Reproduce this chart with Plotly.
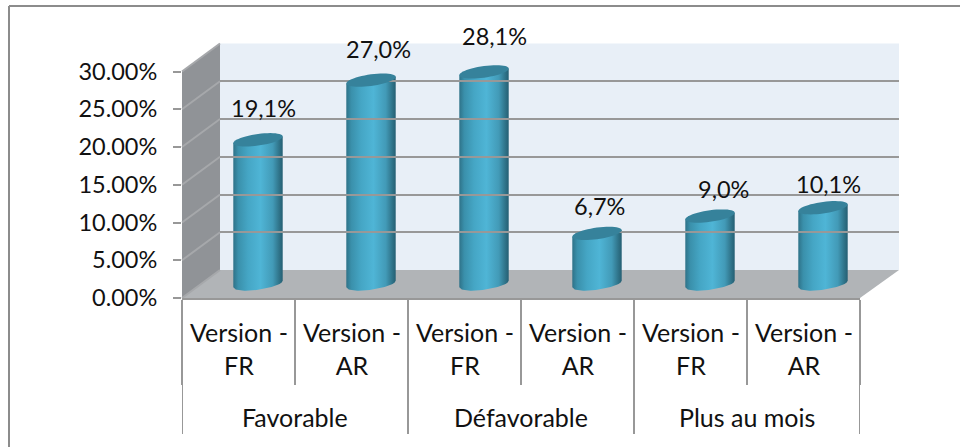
import math
import plotly.graph_objects as go

groups = ["Favorable", "Défavorable", "Plus au mois"]
versions = ["Version -<br>FR", "Version -<br>AR", "Version -<br>FR", "Version -<br>AR", "Version -<br>FR", "Version -<br>AR"]
values = [19.1, 27.0, 28.1, 6.7, 9.0, 10.1]
y_ticks = [0, 5, 10, 15, 20, 25, 30]

W, H = 960, 447
FONT = "Lato"
FS = 25
FS_LABEL = 23.5
FS_TICK = 23.5
X0, X1, Y0, Y30 = 182, 860, 298, 71.5
BAR_SHIFT = (19.5, -14)
WALL_SHIFT = (38, -28)
PX_X = 6 / (X1 - X0)
PX_Y = 30 / (Y0 - Y30)
RX, RY, TILT = 24.7, 5.8, 3.3
BELOW = 2.0  # extra value room below zero so the curved cylinder bases are not clipped
GRADIENT = [[0, "#2e7288"], [0.1, "#3a90ab"], [0.3, "#45a6c5"], [0.55, "#4fb5d6"],
            [0.8, "#429ab7"], [0.93, "#2f7389"], [1, "#255f73"]]
LABEL_OFFSETS = [(5, 32), (7, 31), (10, 36), (2, 27), (13, 27), (5, 24)]


def gx(p):
    return p / W


def gy(p):
    return 1 - p / H


def poly(pts):
    return "M" + " L".join(f"{gx(x):.5f},{gy(y):.5f}" for x, y in pts) + " Z"


fig = go.Figure()
centers = [i + 0.5 for i in range(len(values))]
# real bars, narrow enough to stay inside the cylinder outlines
fig.add_trace(go.Bar(x=centers, y=values, width=2 * (RX - 3) * PX_X, marker=dict(color="#3e99b5", line=dict(width=0)),
                     xaxis="x2", yaxis="y2", hoverinfo="skip", showlegend=False))
for cx, v in zip(centers, values):
    xs, ys = [], []
    for a in range(0, 41):  # base curve, left to right
        u = -1 + 2 * a / 40
        xs.append(cx + RX * u * PX_X)
        ys.append((TILT * u - RY * math.sqrt(1 - u * u)) * PX_Y)
    for a in range(0, 41):  # centre line of the top, right to left
        u = 1 - 2 * a / 40
        xs.append(cx + RX * u * PX_X)
        ys.append(v + TILT * u * PX_Y)
    fig.add_trace(go.Scatter(x=xs, y=ys, mode="lines", line=dict(width=0), fill="toself",
                             fillgradient=dict(type="horizontal", colorscale=GRADIENT),
                             xaxis="x2", yaxis="y2", hoverinfo="skip", showlegend=False))
# invisible traces that make the front and back axes draw
fig.add_trace(go.Scatter(x=centers, y=values, mode="none", xaxis="x", yaxis="y", showlegend=False, hoverinfo="skip"))
fig.add_trace(go.Scatter(x=centers, y=values, mode="none", xaxis="x3", yaxis="y3", showlegend=False, hoverinfo="skip"))

GRID = "#989898"
shapes = [
    dict(type="line", xref="paper", yref="paper", x0=gx(9), x1=gx(9), y0=gy(6), y1=gy(H), line=dict(color="#8c8c8c", width=2), layer="below"),
    dict(type="line", xref="paper", yref="paper", x0=gx(9), x1=gx(W), y0=gy(6), y1=gy(6), line=dict(color="#8c8c8c", width=2), layer="below"),
    dict(type="path", xref="paper", yref="paper", layer="below", line=dict(width=0), fillcolor="#e8eff7",
         path=poly([(X0 + WALL_SHIFT[0], Y30 + WALL_SHIFT[1]), (X1 + WALL_SHIFT[0] + 1, Y30 + WALL_SHIFT[1]),
                    (X1 + WALL_SHIFT[0] + 1, Y0 + WALL_SHIFT[1]), (X0 + WALL_SHIFT[0], Y0 + WALL_SHIFT[1])])),
    dict(type="path", xref="paper", yref="paper", layer="below", line=dict(width=0), fillcolor="#909397",
         path=poly([(X0, Y30), (X0 + WALL_SHIFT[0], Y30 + WALL_SHIFT[1]), (X0 + WALL_SHIFT[0], Y0 + WALL_SHIFT[1]), (X0, Y0)])),
    dict(type="path", xref="paper", yref="paper", layer="below", line=dict(width=0), fillcolor="#b1b4b7",
         path=poly([(X0, Y0), (X0 + WALL_SHIFT[0], Y0 + WALL_SHIFT[1]), (X1 + WALL_SHIFT[0] + 1, Y0 + WALL_SHIFT[1]), (X1, Y0)])),
]
for v in y_ticks:
    yy = Y0 - v / PX_Y
    shapes.append(dict(type="line", xref="paper", yref="paper", layer="below", x0=gx(X0), y0=gy(yy),
                       x1=gx(X0 + WALL_SHIFT[0]), y1=gy(yy + WALL_SHIFT[1]), line=dict(color="#a6a8ab", width=2)))
for g in range(len(groups) + 1):
    shapes.append(dict(type="line", xref="x", yref="paper", x0=2 * g, x1=2 * g, y0=gy(Y0), y1=gy(434),
                       line=dict(color=GRID, width=2)))
for cx, v in zip(centers, values):
    pts = []
    for a in range(48):
        th = 2 * math.pi * a / 48
        u = math.cos(th)
        pts.append((cx + RX * u * PX_X, v + (TILT * u + RY * math.sin(th)) * PX_Y))
    shapes.append(dict(type="path", xref="x2", yref="y2", layer="above", line=dict(width=0), fillcolor="#36829b",
                       path="M" + " L".join(f"{a:.4f},{b:.4f}" for a, b in pts) + " Z"))

annotations = []
for cx, v, (dx, dy) in zip(centers, values, LABEL_OFFSETS):
    annotations.append(dict(xref="x2", yref="y2", x=cx, y=v, xshift=dx, yshift=dy, showarrow=False,
                            text=f"{v:.1f}%".replace(".", ","), font=dict(family=FONT, size=FS_LABEL, color="#111")))
for cx, label in zip(centers, versions):
    annotations.append(dict(xref="x", yref="paper", x=cx, y=gy(348.5), showarrow=False, text=label, yanchor="middle",
                            font=dict(family=FONT, size=FS, color="#111")))
for g, label in enumerate(groups):
    annotations.append(dict(xref="x", yref="paper", x=2 * g + 1, y=gy(417), showarrow=False, text=label, yanchor="middle",
                            font=dict(family=FONT, size=FS, color="#111")))

dom = lambda sx: [gx(X0 + sx), gx(X1 + sx)]
vdom = lambda sy: [gy(Y0 + sy), gy(Y30 + sy)]

fig.update_layout(
    width=W, height=H, margin=dict(l=0, r=0, t=0, b=0, autoexpand=False), paper_bgcolor="white", plot_bgcolor="rgba(0,0,0,0)",
    barmode="overlay", showlegend=False, shapes=shapes, annotations=annotations,
    font=dict(family=FONT, size=FS, color="#111"),
    xaxis=dict(domain=dom(0), range=[0, 6], tickmode="array", tickvals=list(range(7)), ticktext=[""] * 7,
               ticks="outside", ticklen=85, tickwidth=2, tickcolor=GRID, showgrid=False, zeroline=False,
               showline=True, linecolor=GRID, linewidth=2, anchor="y"),
    yaxis=dict(domain=vdom(0), range=[0, 30], tickmode="linear", tick0=0, dtick=5, tickformat=".2f", ticksuffix="%",
               tickfont=dict(family=FONT, size=FS_TICK, color="#111"),
               ticks="outside", ticklen=8, tickwidth=2, tickcolor=GRID, showgrid=False, zeroline=False,
               ticklabelstandoff=11, anchor="x"),
    xaxis2=dict(domain=dom(BAR_SHIFT[0]), range=[0, 6], visible=False, anchor="y2"),
    yaxis2=dict(domain=[gy(Y0 + BAR_SHIFT[1] + BELOW / PX_Y), gy(Y30 + BAR_SHIFT[1])], range=[-BELOW, 30], visible=False, anchor="x2"),
    xaxis3=dict(domain=[gx(X0 + WALL_SHIFT[0]), gx(X1 + WALL_SHIFT[0] + 1)], range=[0, 6], showticklabels=False, ticks="",
                showgrid=False, zeroline=False, anchor="y3"),
    yaxis3=dict(domain=vdom(WALL_SHIFT[1]), range=[0, 30], tickmode="linear", tick0=0, dtick=5, showticklabels=False, ticks="",
                showgrid=True, gridcolor=GRID, gridwidth=2, zeroline=False, anchor="x3"),
)
fig.write_html("out.html", post_script="document.body.style.margin='0';", config={"displayModeBar": False})
